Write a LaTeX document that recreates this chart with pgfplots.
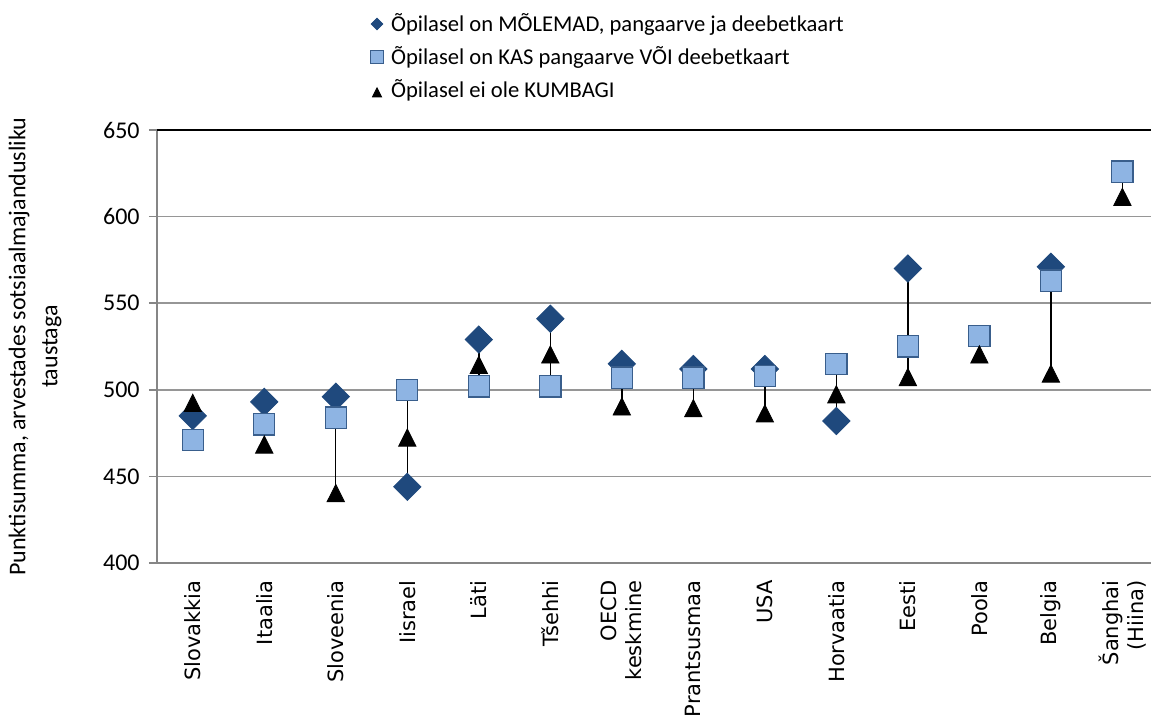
\documentclass[border=0pt]{standalone}
\usepackage{pgfplots}
\pgfplotsset{compat=1.18}
\usepackage{fontspec}
\setmainfont{Carlito}
\newfontfamily\dejavu{DejaVu Sans}
\definecolor{dblue}{RGB}{31,73,125}
\definecolor{lblue}{RGB}{142,180,227}
\definecolor{sqedge}{RGB}{57,94,140}
\definecolor{gridgray}{RGB}{150,150,150}
\definecolor{axgray}{RGB}{134,134,134}
\pgfplotsset{
  dleg/.style={legend image code/.code={\path[draw=none, fill=none] (-6pt,-3pt) rectangle (7pt,3pt); \draw[##1, mark size=2.05pt] plot coordinates {(0pt,1.25pt)};}},
  sleg/.style={legend image code/.code={\path[draw=none, fill=none] (-6pt,-3pt) rectangle (7pt,3pt); \draw[##1, mark size=3.4pt] plot coordinates {(0pt,1.25pt)};}},
  tleg/.style={legend image code/.code={\path[draw=none, fill=none] (-6pt,-3pt) rectangle (7pt,3pt); \draw[##1, mark size=2.65pt] plot coordinates {(0pt,1.25pt)};}},
}
\begin{document}
\begin{tikzpicture}
\begin{axis}[
  scale only axis, width=497pt, height=216.5pt,
  xmin=-0.5, xmax=13.4, ymin=400, ymax=650,
  axis lines*=left,
  axis line style={axgray, line width=1pt},
  /pgf/number format/assume math mode=true,
  ytick={400,450,500,550,600},
  extra y ticks={650},
  extra y tick style={major grid style={black, line width=0.6pt}},
  ymajorgrids, major grid style={gridgray, line width=0.75pt},
  tick align=outside, major tick length=4pt,
  ytick style={axgray, line width=0.8pt},
  xtick={0,...,13},
  xticklabels={Slovakkia,Itaalia,Sloveenia,Iisrael,Läti,Tšehhi,OECD\\keskmine,Prantsusmaa,USA,Horvaatia,Eesti,Poola,Belgia,Šanghai\\(Hiina)},
  x tick style={draw=none},
  xticklabel style={rotate=90, anchor=east, align=right, font=\dejavu\fontsize{10.5}{12.5}\selectfont, inner sep=0pt},
  xticklabel shift=4.5pt,
  yticklabel style={font=\fontsize{12}{14}\selectfont, inner sep=0pt},
  yticklabel shift=4.5pt,
  ylabel={Punktisumma, arvestades sotsiaalmajandusliku\\taustaga},
  ylabel style={align=center, font=\fontsize{12}{16}\selectfont, inner sep=0pt, at={(axis description cs:-0.0956,0.5)}, anchor=south},
  legend style={draw=none, fill=none, inner sep=0pt, outer sep=0pt,
    at={(axis description cs:0.2093,1.2633)}, anchor=north west,
    row sep=6pt, font=\fontsize{11.3}{13}\selectfont,
    nodes={inner sep=0pt, text height=8pt, text depth=2.5pt},
    /tikz/every even column/.append style={column sep=0pt}},
  legend cell align=left,
]
% high-low lines
\addplot[black, line width=0.7pt, unbounded coords=jump, forget plot] coordinates {
(0,471)(0,493)(0,nan)
(1,469)(1,493)(1,nan)
(2,441)(2,496)(2,nan)
(3,444)(3,500)(3,nan)
(4,502)(4,529)(4,nan)
(5,502)(5,541)(5,nan)
(6,491)(6,515)(6,nan)
(7,490)(7,512)(7,nan)
(8,487)(8,512)(8,nan)
(9,482)(9,515)(9,nan)
(10,508)(10,570)(10,nan)
(11,521)(11,531)(11,nan)
(12,510)(12,571)(12,nan)
(13,612)(13,626)
};
\addplot[only marks, mark=square*, color=dblue, mark size=4.83pt, mark options={rotate=45}, dleg]
coordinates {(0,485)(1,493)(2,496)(3,444)(4,529)(5,541)(6,515)(7,512)(8,512)(9,482)(10,570)(12,571)};
\addlegendentry{Õpilasel on MÕLEMAD, pangaarve ja deebetkaart}
\addplot[only marks, mark=square*, draw=sqedge, fill=lblue, mark size=5.3pt, line width=0.6pt, sleg]
coordinates {(0,471)(1,480)(2,484)(3,500)(4,502)(5,502)(6,507)(7,507)(8,508)(9,515)(10,525)(11,531)(12,563)(13,626)};
\addlegendentry{Õpilasel on KAS pangaarve VÕI deebetkaart}
\addplot[only marks, mark=triangle*, color=black, mark size=5pt, mark options={yscale=1.15, yshift=-1.7pt}, tleg]
coordinates {(0,493)(1,469)(2,441)(3,473)(4,515)(5,521)(6,491)(7,490)(8,487)(9,498)(10,508)(11,521)(12,510)(13,612)};
\addlegendentry{Õpilasel ei ole KUMBAGI}
\end{axis}
\pgfresetboundingbox
\path (-78.5pt,-79.5pt) rectangle (497pt,281.5pt);
\end{tikzpicture}
\end{document}
